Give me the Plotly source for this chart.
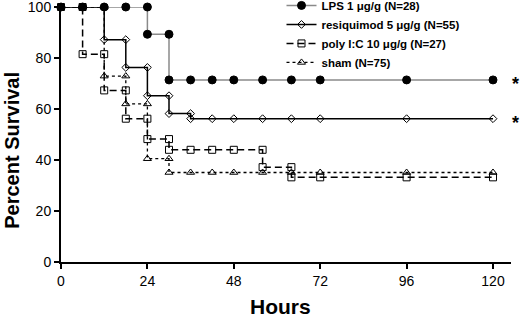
import plotly.graph_objects as go

hours = [0, 6, 12, 18, 24, 30, 36, 42, 48, 56, 64, 72, 96, 120]
lps = [100, 100, 100, 100, 89.3, 71.4, 71.4, 71.4, 71.4, 71.4, 71.4, 71.4, 71.4, 71.4]
resiquimod = [100, 100, 87.2, 76.3, 65.2, 58.2, 56.2, 56.2, 56.2, 56.2, 56.2, 56.2, 56.2, 56.2]
polyic = [100, 81.5, 67.3, 56.2, 48.2, 44.0, 44.0, 44.0, 44.0, 37.2, 33.2, 33.2, 33.2, 33.2]
sham = [100, 100, 72.9, 62.0, 40.5, 35.1, 35.1, 35.1, 35.1, 35.1, 35.1, 35.1, 35.1, 35.1]

names = ["LPS 1 μg/g (N=28)", "resiquimod 5 μg/g (N=55)",
         "poly I:C 10 μg/g (N=27)", "sham (N=75)"]
xticks = [0, 24, 48, 72, 96, 120]
yticks = [0, 20, 40, 60, 80, 100]


def steps(t, v):
    xs, ys = [t[0]], [v[0]]
    for i in range(1, len(t)):
        if v[i] != v[i - 1]:
            xs.append(t[i]); ys.append(v[i - 1])
        xs.append(t[i]); ys.append(v[i])
    return xs, ys


styles = [
    dict(line=dict(color="#8a8a8a", width=1.5, dash="solid"),
         marker=dict(symbol="circle", size=8, color="black", line=dict(color="black", width=1))),
    dict(line=dict(color="black", width=1.5, dash="solid"),
         marker=dict(symbol="diamond-open", size=6, color="black", line=dict(color="black", width=1))),
    dict(line=dict(color="black", width=1.5, dash="7px,4px"),
         marker=dict(symbol="square-open", size=7, color="black", line=dict(color="black", width=1))),
    dict(line=dict(color="black", width=1.3, dash="3px,3px"),
         marker=dict(symbol="triangle-up-open", size=7, color="black", line=dict(color="black", width=1))),
]

fig = go.Figure()
for name, vals, st in zip(names, [lps, resiquimod, polyic, sham], styles):
    xs, ys = steps(hours, vals)
    fig.add_trace(go.Scatter(x=xs, y=ys, mode="lines+markers", name=name,
                             line=st["line"], marker=st["marker"], cliponaxis=False))

for vals in [lps, resiquimod]:
    fig.add_annotation(x=1, xref="paper", y=vals[-1], yref="y", text="<b>*</b>",
                       showarrow=False, xanchor="center", xshift=4, yshift=-4,
                       font=dict(size=18, color="black", family="Liberation Sans"))

fig.add_annotation(x=-0.109, xref="paper", y=0.44, yref="paper", text="<b>Percent Survival</b>",
                   textangle=-90, showarrow=False, xanchor="center", yanchor="middle",
                   font=dict(size=20, color="black", family="Liberation Sans"))
fig.add_annotation(x=0.487, xref="paper", y=-0.206, yref="paper", text="<b>Hours</b>",
                   showarrow=False, xanchor="center", yanchor="bottom", yshift=-5,
                   font=dict(size=21, color="black", family="Liberation Sans"))

axis_common = dict(showline=True, linecolor="black", linewidth=2, ticks="outside",
                   ticklen=5, tickwidth=2, tickcolor="black", showgrid=False, zeroline=False,
                   ticklabeloverflow="allow",
                   tickfont=dict(size=14, color="black", family="Liberation Sans"))
fig.update_xaxes(range=[0, 125], tickvals=xticks, **axis_common)
fig.update_yaxes(range=[0, 100], tickvals=yticks, **axis_common)

fig.update_layout(
    width=520, height=315,
    margin=dict(l=61, r=9, t=7, b=53, autoexpand=False),
    plot_bgcolor="white", paper_bgcolor="white",
    showlegend=True,
    legend=dict(x=0.49, y=1.063,
                xanchor="left", yanchor="top", bgcolor="rgba(0,0,0,0)",
                font=dict(size=11.5, color="black", family="Liberation Sans", weight="bold"),
                tracegroupgap=0, itemwidth=30),
    font=dict(family="Liberation Sans", color="black"),
)

fig.write_html("out.html", config={"displayModeBar": False},
               post_script="document.body.style.margin='0';document.body.style.padding='0';")
